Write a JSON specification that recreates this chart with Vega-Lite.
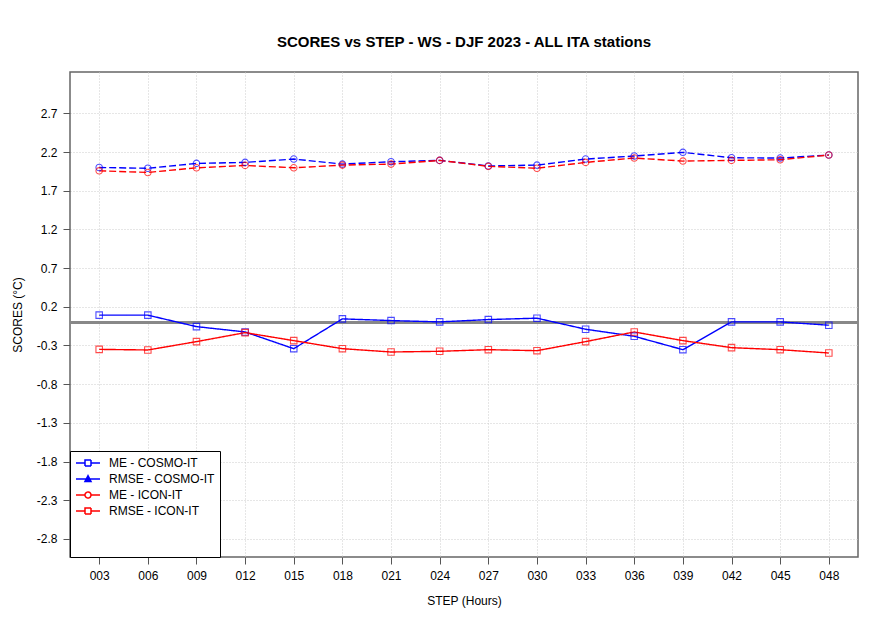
{
  "$schema": "https://vega.github.io/schema/vega-lite/v6.json",
  "autosize": {"type": "none"},
  "width": 788,
  "height": 485,
  "padding": {"left": 70, "top": 72, "right": 22, "bottom": 72},
  "background": "white",
  "title": {"text": "SCORES vs STEP - WS - DJF 2023 - ALL ITA stations", "fontSize": 15, "fontWeight": "bold", "font": "Liberation Sans", "color": "black", "offset": 22, "anchor": "middle"},
  "config": {
    "font": "Liberation Sans",
    "view": {"stroke": "#666666", "strokeWidth": 1.5},
    "axis": {"labelFontSize": 12, "titleFontSize": 12, "titleFontWeight": "normal", "labelColor": "black", "titleColor": "black", "tickColor": "#555555", "tickSize": 7, "labelPadding": 6, "domain": false, "grid": true, "gridColor": "#cccccc", "gridDash": [1, 2], "gridWidth": 1}
  },
  "data": {"values": [
    {"step": 3, "series": "ME - COSMO-IT", "metric": "ME", "value": 0.092},
    {"step": 6, "series": "ME - COSMO-IT", "metric": "ME", "value": 0.092},
    {"step": 9, "series": "ME - COSMO-IT", "metric": "ME", "value": -0.056},
    {"step": 12, "series": "ME - COSMO-IT", "metric": "ME", "value": -0.125},
    {"step": 15, "series": "ME - COSMO-IT", "metric": "ME", "value": -0.341},
    {"step": 18, "series": "ME - COSMO-IT", "metric": "ME", "value": 0.044},
    {"step": 21, "series": "ME - COSMO-IT", "metric": "ME", "value": 0.022},
    {"step": 24, "series": "ME - COSMO-IT", "metric": "ME", "value": 0.005},
    {"step": 27, "series": "ME - COSMO-IT", "metric": "ME", "value": 0.035},
    {"step": 30, "series": "ME - COSMO-IT", "metric": "ME", "value": 0.053},
    {"step": 33, "series": "ME - COSMO-IT", "metric": "ME", "value": -0.09},
    {"step": 36, "series": "ME - COSMO-IT", "metric": "ME", "value": -0.181},
    {"step": 39, "series": "ME - COSMO-IT", "metric": "ME", "value": -0.354},
    {"step": 42, "series": "ME - COSMO-IT", "metric": "ME", "value": 0.005},
    {"step": 45, "series": "ME - COSMO-IT", "metric": "ME", "value": 0.005},
    {"step": 48, "series": "ME - COSMO-IT", "metric": "ME", "value": -0.038},
    {"step": 3, "series": "RMSE - COSMO-IT", "metric": "RMSE", "value": 2.0},
    {"step": 6, "series": "RMSE - COSMO-IT", "metric": "RMSE", "value": 1.99},
    {"step": 9, "series": "RMSE - COSMO-IT", "metric": "RMSE", "value": 2.053},
    {"step": 12, "series": "RMSE - COSMO-IT", "metric": "RMSE", "value": 2.066},
    {"step": 15, "series": "RMSE - COSMO-IT", "metric": "RMSE", "value": 2.109},
    {"step": 18, "series": "RMSE - COSMO-IT", "metric": "RMSE", "value": 2.044},
    {"step": 21, "series": "RMSE - COSMO-IT", "metric": "RMSE", "value": 2.074},
    {"step": 24, "series": "RMSE - COSMO-IT", "metric": "RMSE", "value": 2.092},
    {"step": 27, "series": "RMSE - COSMO-IT", "metric": "RMSE", "value": 2.02},
    {"step": 30, "series": "RMSE - COSMO-IT", "metric": "RMSE", "value": 2.031},
    {"step": 33, "series": "RMSE - COSMO-IT", "metric": "RMSE", "value": 2.109},
    {"step": 36, "series": "RMSE - COSMO-IT", "metric": "RMSE", "value": 2.148},
    {"step": 39, "series": "RMSE - COSMO-IT", "metric": "RMSE", "value": 2.196},
    {"step": 42, "series": "RMSE - COSMO-IT", "metric": "RMSE", "value": 2.126},
    {"step": 45, "series": "RMSE - COSMO-IT", "metric": "RMSE", "value": 2.122},
    {"step": 48, "series": "RMSE - COSMO-IT", "metric": "RMSE", "value": 2.161},
    {"step": 3, "series": "ME - ICON-IT", "metric": "ME", "value": -0.35},
    {"step": 6, "series": "ME - ICON-IT", "metric": "ME", "value": -0.358},
    {"step": 9, "series": "ME - ICON-IT", "metric": "ME", "value": -0.25},
    {"step": 12, "series": "ME - ICON-IT", "metric": "ME", "value": -0.134},
    {"step": 15, "series": "ME - ICON-IT", "metric": "ME", "value": -0.237},
    {"step": 18, "series": "ME - ICON-IT", "metric": "ME", "value": -0.341},
    {"step": 21, "series": "ME - ICON-IT", "metric": "ME", "value": -0.384},
    {"step": 24, "series": "ME - ICON-IT", "metric": "ME", "value": -0.375},
    {"step": 27, "series": "ME - ICON-IT", "metric": "ME", "value": -0.354},
    {"step": 30, "series": "ME - ICON-IT", "metric": "ME", "value": -0.367},
    {"step": 33, "series": "ME - ICON-IT", "metric": "ME", "value": -0.25},
    {"step": 36, "series": "ME - ICON-IT", "metric": "ME", "value": -0.125},
    {"step": 39, "series": "ME - ICON-IT", "metric": "ME", "value": -0.237},
    {"step": 42, "series": "ME - ICON-IT", "metric": "ME", "value": -0.328},
    {"step": 45, "series": "ME - ICON-IT", "metric": "ME", "value": -0.354},
    {"step": 48, "series": "ME - ICON-IT", "metric": "ME", "value": -0.397},
    {"step": 3, "series": "RMSE - ICON-IT", "metric": "RMSE", "value": 1.957},
    {"step": 6, "series": "RMSE - ICON-IT", "metric": "RMSE", "value": 1.936},
    {"step": 9, "series": "RMSE - ICON-IT", "metric": "RMSE", "value": 1.996},
    {"step": 12, "series": "RMSE - ICON-IT", "metric": "RMSE", "value": 2.027},
    {"step": 15, "series": "RMSE - ICON-IT", "metric": "RMSE", "value": 1.996},
    {"step": 18, "series": "RMSE - ICON-IT", "metric": "RMSE", "value": 2.031},
    {"step": 21, "series": "RMSE - ICON-IT", "metric": "RMSE", "value": 2.044},
    {"step": 24, "series": "RMSE - ICON-IT", "metric": "RMSE", "value": 2.092},
    {"step": 27, "series": "RMSE - ICON-IT", "metric": "RMSE", "value": 2.015},
    {"step": 30, "series": "RMSE - ICON-IT", "metric": "RMSE", "value": 1.99},
    {"step": 33, "series": "RMSE - ICON-IT", "metric": "RMSE", "value": 2.066},
    {"step": 36, "series": "RMSE - ICON-IT", "metric": "RMSE", "value": 2.122},
    {"step": 39, "series": "RMSE - ICON-IT", "metric": "RMSE", "value": 2.083},
    {"step": 42, "series": "RMSE - ICON-IT", "metric": "RMSE", "value": 2.092},
    {"step": 45, "series": "RMSE - ICON-IT", "metric": "RMSE", "value": 2.1},
    {"step": 48, "series": "RMSE - ICON-IT", "metric": "RMSE", "value": 2.161}
  ]},
  "encoding": {
    "x": {"field": "step", "type": "quantitative", "scale": {"domain": [1.2, 49.8], "nice": false, "zero": false},
      "axis": {"values": [3, 6, 9, 12, 15, 18, 21, 24, 27, 30, 33, 36, 39, 42, 45, 48], "labelExpr": "(datum.value < 10 ? '00' : '0') + datum.value", "title": "STEP (Hours)", "titlePadding": 14, "labelFlush": false, "labelOverlap": false}},
    "y": {"field": "value", "type": "quantitative", "scale": {"domain": [-3.033, 3.234], "nice": false, "zero": false},
      "axis": {"values": [-2.8, -2.3, -1.8, -1.3, -0.8, -0.3, 0.2, 0.7, 1.2, 1.7, 2.2, 2.7], "labelExpr": "'' + datum.value", "title": "SCORES (°C)", "titlePadding": 12, "labelFlush": false, "labelOverlap": false}}
  },
  "layer": [
    {
      "mark": {"type": "rule", "color": "#888888", "strokeWidth": 2},
      "encoding": {"y": {"datum": 0}, "x": {"value": 0}, "x2": {"value": "width"}}
    },
    {
      "mark": {"type": "line", "strokeWidth": 1.4},
      "encoding": {
        "detail": {"field": "series", "type": "nominal"},
        "color": {"field": "series", "type": "nominal",
          "scale": {"domain": ["ME - COSMO-IT", "RMSE - COSMO-IT", "ME - ICON-IT", "RMSE - ICON-IT"], "range": ["#0000ff", "#0000ff", "#ff0000", "#ff0000"]},
          "legend": {"orient": "bottom-left", "offset": 0, "title": " ", "titleOrient": "bottom", "titlePadding": 24, "titleFontSize": 12, "padding": 5, "strokeColor": "black", "fillColor": "white", "cornerRadius": 0, "labelFontSize": 12, "labelColor": "black", "symbolSize": 144, "symbolStrokeWidth": 1.5, "symbolDash": [1, 0], "rowPadding": 3, "labelOffset": 20, "symbolType": "M-1,0H3",
            "encode": {"symbols": {"update": {
              "shape": {"signal": "datum.value == 'ME - COSMO-IT' ? 'M-1,0H0.5M1.5,0H3M0.5,-0.5H1.5V0.5H0.5Z' : datum.value == 'RMSE - COSMO-IT' ? 'M-1,0H3M1,-0.55L1.5,0.4H0.5Z' : datum.value == 'ME - ICON-IT' ? 'M-1,0H0.5M1.5,0H3M1.5,0A0.5,0.5,0,1,1,0.5,0A0.5,0.5,0,1,1,1.5,0Z' : 'M-1,0H0.5M1.5,0H3M0.5,-0.5H1.5V0.5H0.5Z'"},
              "fill": {"signal": "datum.value == 'RMSE - COSMO-IT' ? '#0000ff' : 'transparent'"},
              "strokeDash": {"value": [1, 0]}
            }}}
          }},
        "strokeDash": {"field": "metric", "type": "nominal",
          "scale": {"domain": ["ME", "RMSE"], "range": [[1, 0], [7, 3]]},
          "legend": null}
      }
    },
    {
      "mark": {"type": "point", "filled": false, "size": 42, "strokeWidth": 1.1, "opacity": 0.7},
      "encoding": {
        "color": {"field": "series", "type": "nominal", "legend": null},
        "shape": {"field": "metric", "type": "nominal",
          "scale": {"domain": ["ME", "RMSE"], "range": ["square", "circle"]},
          "legend": null}
      }
    }
  ]
}
